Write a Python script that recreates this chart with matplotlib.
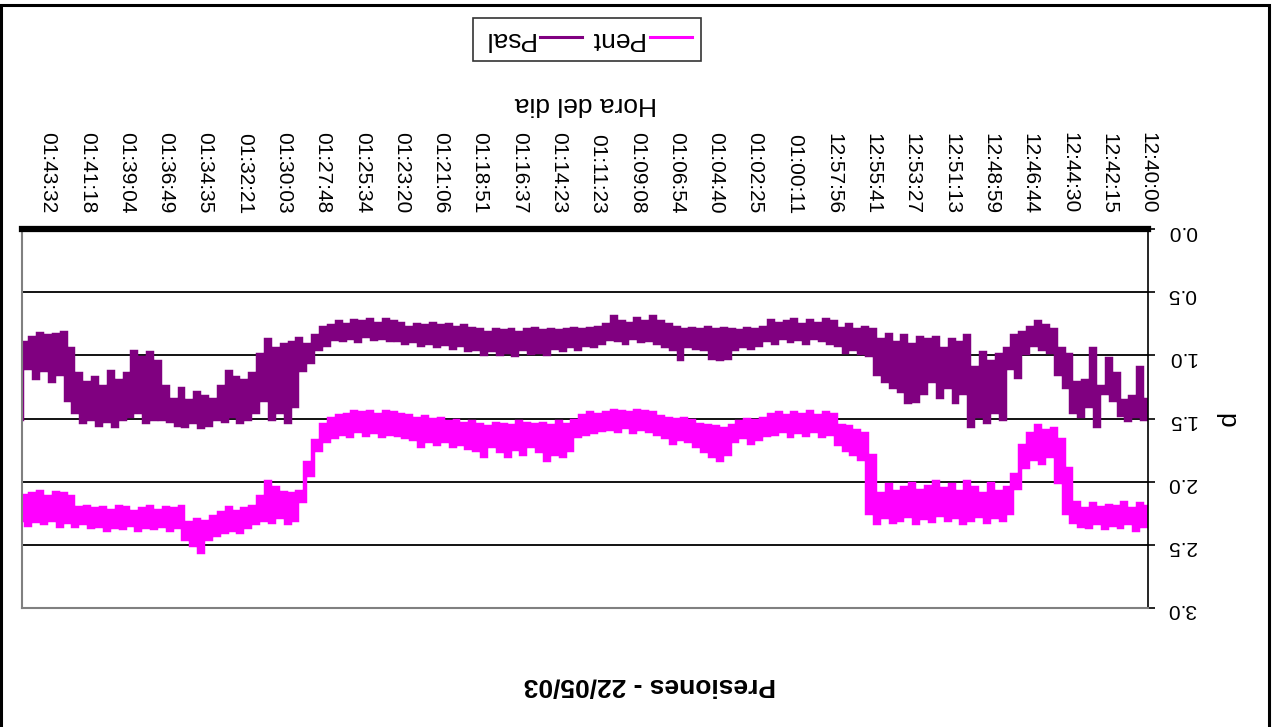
import matplotlib.pyplot as plt
import numpy as np

plt.rcParams["font.family"] = ["Liberation Sans", "DejaVu Sans"]

# category labels, one every SAMPLES_PER_LABEL samples
time_labels = [
    "12:40:00", "12:42:15", "12:44:30", "12:46:44", "12:48:59", "12:51:13",
    "12:53:27", "12:55:41", "12:57:56", "01:00:11", "01:02:25", "01:04:40",
    "01:06:54", "01:09:08", "01:11:23", "01:14:23", "01:16:37", "01:18:51",
    "01:21:06", "01:23:20", "01:25:34", "01:27:48", "01:30:03", "01:32:21",
    "01:34:35", "01:36:49", "01:39:04", "01:41:18", "01:43:32",
]
SAMPLES_PER_LABEL = 5

# the noisy traces, read as low / high extremes for each sample slot
psal_low = [
    1.35, 1.10, 1.33, 1.36, 1.15, 1.03, 1.25, 0.95, 1.20, 1.22,
    1.00, 0.95, 0.80, 0.77, 0.74, 0.78, 0.82, 0.85, 0.95, 1.00,
    1.05, 0.98, 1.10, 0.85, 0.90, 0.88, 0.95, 0.86, 0.88, 0.86,
    0.92, 0.85, 0.90, 0.84, 0.88, 0.80, 0.78, 0.80, 0.76, 0.79,
    0.74, 0.72, 0.75, 0.73, 0.76, 0.72, 0.74, 0.75, 0.73, 0.78,
    0.80, 0.79, 0.81, 0.80, 0.79, 0.80, 0.78, 0.80, 0.79, 0.80,
    0.78, 0.76, 0.74, 0.70, 0.74, 0.71, 0.75, 0.74, 0.70, 0.76,
    0.78, 0.79, 0.80, 0.79, 0.80, 0.81, 0.80, 0.81, 0.79, 0.80,
    0.82, 0.80, 0.81, 0.80, 0.82, 0.80, 0.79, 0.77, 0.78, 0.76,
    0.77, 0.75, 0.77, 0.76, 0.78, 0.75, 0.74, 0.72, 0.75, 0.72,
    0.74, 0.73, 0.76, 0.74, 0.77, 0.78, 0.85, 0.92, 0.87, 0.90,
    0.92, 0.95, 0.88, 1.00, 1.15, 1.20, 1.18, 1.13, 1.25, 1.35,
    1.33, 1.30, 1.36, 1.27, 1.35, 1.25, 1.05, 0.98, 1.02, 0.97,
    1.15, 1.20, 1.13, 1.25, 1.18, 1.22, 1.15, 0.95, 0.82, 0.84,
    0.85, 0.83, 0.86, 0.90,
]
psal_high = [
    1.50, 1.48, 1.51, 1.47, 1.35, 1.30, 1.56, 1.40, 1.48, 1.45,
    1.25, 1.15, 0.97, 0.95, 0.92, 0.98, 1.17, 1.10, 1.50, 1.45,
    1.53, 1.48, 1.56, 1.30, 1.37, 1.25, 1.33, 1.20, 1.30, 1.36,
    1.37, 1.28, 1.25, 1.20, 1.15, 1.00, 0.98, 0.95, 0.97, 0.92,
    0.90, 0.88, 0.86, 0.90, 0.87, 0.89, 0.86, 0.90, 0.88, 0.92,
    0.94, 0.93, 0.95, 1.02, 1.03, 1.02, 0.95, 0.94, 0.93, 1.03,
    0.95, 0.93, 0.90, 0.88, 0.89, 0.86, 0.90, 0.88, 0.87, 0.90,
    0.93, 0.92, 0.95, 0.93, 0.96, 0.94, 0.99, 0.97, 0.98, 0.95,
    1.00, 0.97, 0.99, 0.96, 0.99, 0.95, 0.96, 0.92, 0.94, 0.91,
    0.93, 0.90, 0.92, 0.89, 0.90, 0.88, 0.88, 0.86, 0.87, 0.85,
    0.89, 0.86, 0.88, 0.87, 0.92, 0.95, 1.05, 1.12, 1.40, 1.53,
    1.45, 1.50, 1.35, 1.45, 1.50, 1.53, 1.48, 1.52, 1.50, 1.55,
    1.57, 1.53, 1.56, 1.55, 1.52, 1.50, 1.50, 1.53, 1.45, 1.48,
    1.50, 1.56, 1.52, 1.55, 1.50, 1.53, 1.45, 1.35, 1.15, 1.20,
    1.12, 1.18, 1.10, 1.50,
]

pent_low = [
    2.20, 2.18, 2.22, 2.17, 2.20, 2.19, 2.21, 2.18, 2.22, 2.17,
    1.90, 1.67, 1.58, 1.60, 1.56, 1.62, 1.72, 1.95, 2.05, 2.08,
    2.02, 2.10, 2.05, 2.00, 2.08, 2.03, 2.06, 2.00, 2.04, 2.07,
    2.02, 2.05, 2.08, 2.03, 2.10, 1.80, 1.62, 1.60, 1.57, 1.56,
    1.47, 1.46, 1.48, 1.45, 1.47, 1.46, 1.48, 1.46, 1.47, 1.50,
    1.52, 1.51, 1.53, 1.56, 1.58, 1.57, 1.56, 1.55, 1.52, 1.50,
    1.51, 1.50, 1.49, 1.46, 1.45, 1.44, 1.46, 1.45, 1.44, 1.46,
    1.47, 1.46, 1.48, 1.52, 1.55, 1.53, 1.56, 1.54, 1.55, 1.54,
    1.53, 1.56, 1.55, 1.54, 1.57, 1.55, 1.53, 1.54, 1.52, 1.53,
    1.50, 1.51, 1.49, 1.50, 1.48, 1.47, 1.46, 1.45, 1.47, 1.45,
    1.46, 1.45, 1.47, 1.48, 1.50, 1.55, 1.68, 1.85, 2.08, 2.10,
    2.09, 2.05, 2.00, 2.12, 2.20, 2.22, 2.24, 2.21, 2.25, 2.28,
    2.32, 2.30, 2.33, 2.20, 2.22, 2.21, 2.23, 2.20, 2.22, 2.24,
    2.21, 2.20, 2.23, 2.21, 2.22, 2.20, 2.21, 2.12, 2.10, 2.09,
    2.12, 2.08, 2.10, 2.11,
]
pent_high = [
    2.35, 2.38, 2.33, 2.36, 2.34, 2.37, 2.33, 2.36, 2.35, 2.32,
    2.25, 2.00, 1.80, 1.85, 1.82, 1.88, 2.05, 2.25, 2.30, 2.28,
    2.32, 2.27, 2.30, 2.33, 2.28, 2.30, 2.26, 2.31, 2.29, 2.33,
    2.27, 2.30, 2.32, 2.28, 2.33, 2.25, 1.82, 1.78, 1.75, 1.70,
    1.62, 1.64, 1.60, 1.63, 1.61, 1.64, 1.60, 1.62, 1.63, 1.66,
    1.69, 1.65, 1.68, 1.78, 1.83, 1.80, 1.76, 1.72, 1.68, 1.66,
    1.69, 1.65, 1.62, 1.60, 1.58, 1.61, 1.57, 1.60, 1.58, 1.59,
    1.61, 1.62, 1.64, 1.75, 1.80, 1.78, 1.83, 1.76, 1.72, 1.78,
    1.74, 1.80, 1.76, 1.72, 1.80, 1.75, 1.73, 1.70, 1.72, 1.68,
    1.70, 1.68, 1.72, 1.66, 1.65, 1.63, 1.62, 1.64, 1.61, 1.63,
    1.60, 1.64, 1.62, 1.65, 1.68, 1.75, 1.95, 2.15, 2.30, 2.33,
    2.28, 2.32, 2.30, 2.33, 2.36, 2.40, 2.38, 2.40, 2.42, 2.45,
    2.56, 2.50, 2.45, 2.36, 2.38, 2.35, 2.37, 2.36, 2.38, 2.34,
    2.37, 2.36, 2.38, 2.35, 2.36, 2.33, 2.35, 2.32, 2.35, 2.30,
    2.33, 2.31, 2.34, 2.30,
]

PSAL_COLOR = "#800080"
PENT_COLOR = "#ff00ff"


def zigzag(low, high):
    # low value at the slot, high value half a slot later
    n = len(low)
    xs = np.column_stack([np.arange(n), np.arange(n) + 0.5]).ravel()
    ys = np.column_stack([low, high]).ravel()
    return xs, ys


W, H = 1275, 727
fig = plt.figure(figsize=(W / 100, H / 100), dpi=100)
fig.patch.set_facecolor("white")

# the whole chart is shown rotated 180 degrees
ax = fig.add_axes([22 / W, (H - 608) / H, 1126 / W, 379 / H])
xp, yp = zigzag(pent_low, pent_high)
ln_pent, = ax.plot(xp, yp, color=PENT_COLOR, lw=3.2, drawstyle="steps-mid", solid_joinstyle="miter")
xs, ys = zigzag(psal_low, psal_high)
ln_psal, = ax.plot(xs, ys, color=PSAL_COLOR, lw=3.2, drawstyle="steps-mid", solid_joinstyle="miter")

ax.set_xlim(len(psal_low) - 0.7, 0)
ax.set_ylim(3.0, 0.0)

ax.xaxis.tick_top()
ax.set_xticks(np.arange(len(time_labels)) * SAMPLES_PER_LABEL)
ax.set_xticklabels(time_labels, rotation=270, fontsize=15)
ax.tick_params(axis="x", length=0, pad=11)

yt = np.arange(0, 3.01, 0.5)
ax.yaxis.tick_right()
ax.set_yticks(yt)
ax.set_yticklabels([f"{v:.1f}" for v in yt], rotation=180, fontsize=15)
ax.tick_params(axis="y", direction="out", length=5, width=1.2, color="black", pad=9)
ax.grid(axis="y", color="black", lw=1.3)

ax.spines["top"].set_linewidth(4.5)
ax.spines["top"].set_color("black")
ax.spines["right"].set_linewidth(1.2)
ax.spines["right"].set_color("black")
for side in ("left", "bottom"):
    ax.spines[side].set_color("#808080")
    ax.spines[side].set_linewidth(1.5)

fig.text(586 / W, 1 - 104 / H, "Hora del dia", rotation=180, ha="center", va="center", fontsize=19)
fig.text(650 / W, 1 - 686 / H, "Presiones - 22/05/03", rotation=180, ha="center", va="center",
         fontsize=19, fontweight="bold")
fig.text(1226 / W, 1 - 420 / H, "p", rotation=270, ha="center", va="center", fontsize=19)

leg = fig.legend([ln_psal, ln_pent], ["Psal", "Pent"], ncol=2, markerfirst=False, loc="center",
                 bbox_to_anchor=(587 / W, 1 - 39.5 / H), fontsize=19, frameon=True, fancybox=False,
                 edgecolor="black", handlelength=1.6, handletextpad=0.25, columnspacing=0.25,
                 borderpad=0.35)
leg.get_frame().set_linewidth(1.2)
for t in leg.get_texts():
    t.set_rotation(180)
for h in leg.legend_handles:
    h.set_linewidth(2.2)

# outer chart border
fig.add_artist(plt.Rectangle((1.5 / W, -0.01), 1267.5 / W, 1.01 - 5 / H, fill=False,
                             lw=2.2, edgecolor="black", transform=fig.transFigure))

fig.savefig("out.png", dpi=100)
plt.close(fig)
